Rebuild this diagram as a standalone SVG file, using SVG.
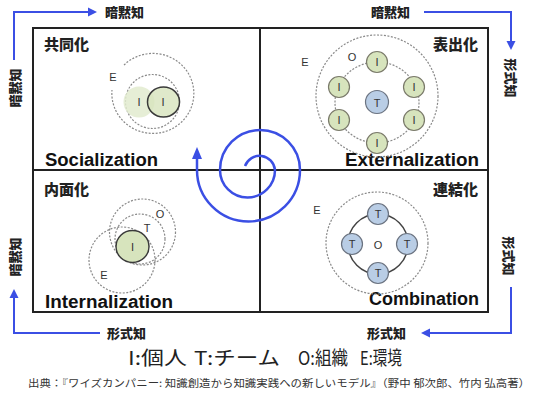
<svg xmlns="http://www.w3.org/2000/svg" width="536" height="401" viewBox="0 0 536 401">
<defs>
<style>
.frame{fill:none;stroke:#222;stroke-width:2}
.blue{fill:none;stroke:#3b4fe4;stroke-width:2}
.bluefill{fill:#3b4fe4}
.spiral{fill:none;stroke:#3b4fe4;stroke-width:2.5}
.dash{fill:none;stroke:#8a8a8a;stroke-width:1.2;stroke-dasharray:2 1.5}
.ring{fill:none;stroke:#444;stroke-width:1.5}
.ci{fill:#d7e4bd;stroke:#7a7a6a;stroke-width:1.2}
.ct{fill:#b9cde5;stroke:#6b7380;stroke-width:1.2}
.jq{font-family:"Noto Sans CJK JP","Noto Sans CJK SC",sans-serif;font-weight:900;fill:#222;font-size:15px}
.ax{font-family:"Noto Sans CJK JP","Noto Sans CJK SC",sans-serif;font-weight:900;fill:#222;font-size:13px}
.en{font-family:"Liberation Sans",Arial,sans-serif;font-weight:bold;fill:#111;font-size:18px}
.lb{font-family:"Liberation Sans",Arial,sans-serif;fill:#333;font-size:11px;text-anchor:middle;dominant-baseline:central}
.lg{font-family:"Noto Sans CJK JP","Noto Sans CJK SC",sans-serif;fill:#222;font-size:19px}
.src{font-family:"Noto Sans CJK JP","Noto Sans CJK SC",sans-serif;fill:#333;font-size:10.5px}
</style>
</defs>

<g id="frame">
<rect class="frame" x="33" y="28" width="455" height="284"/>
<line class="frame" x1="260" y1="28" x2="260" y2="312"/>
<line class="frame" x1="33" y1="170" x2="488" y2="170"/>
</g>

<g id="connectors">
<path class="blue" d="M14,60 V12 H89"/>
<polygon class="bluefill" points="97,12 88,7.5 88,16.5"/>
<path class="blue" d="M424,12 H511 V42"/>
<polygon class="bluefill" points="511,50 506.5,41 515.5,41"/>
<path class="blue" d="M511,287 V333 H429"/>
<polygon class="bluefill" points="421,333 430,328.5 430,337.5"/>
<path class="blue" d="M100,333 H14 V297"/>
<polygon class="bluefill" points="14,289 9.5,298 18.5,298"/>
<path class="spiral" d="M245,166 A15.5,15.5 0 0 1 275,170 A27.5,27.5 0 0 1 220,170 A40,40 0 0 1 300,170 A51.5,51.5 0 0 1 197,170 L197,158"/>
<polygon class="bluefill" points="197,147 192,159 202,159"/>
</g>

<g id="axis-labels">
<text class="ax" x="105" y="17">暗黙知</text>
<text class="ax" x="371" y="17">暗黙知</text>
<text class="ax" x="107" y="338">形式知</text>
<text class="ax" x="367" y="338">形式知</text>
<text class="ax" text-anchor="middle" dominant-baseline="central" transform="translate(14,88) rotate(-90)">暗黙知</text>
<text class="ax" text-anchor="middle" dominant-baseline="central" transform="translate(14,257) rotate(-90)">暗黙知</text>
<text class="ax" text-anchor="middle" dominant-baseline="central" transform="translate(511,78) rotate(90)">形式知</text>
<text class="ax" text-anchor="middle" dominant-baseline="central" transform="translate(509,256) rotate(90)">形式知</text>
</g>

<g id="socialization">
<text class="jq" x="44" y="50">共同化</text>
<text class="en" x="45" y="166" textLength="113" lengthAdjust="spacingAndGlyphs">Socialization</text>
<path class="dash" d="M124,65 A41,40 0 1 1 112,90"/>
<circle class="dash" cx="152.5" cy="101.5" r="27"/>
<circle cx="139" cy="102" r="15.5" fill="#e2ebcf" opacity="0.85"/>
<ellipse cx="163.5" cy="102" rx="16" ry="15" fill="#d7e4bd" fill-opacity="0.8" stroke="#3a3a3a" stroke-width="1.5"/>
<text class="lb" x="113" y="77">E</text>
<text class="lb" x="139" y="102" fill="#555">I</text>
<text class="lb" x="163" y="102">I</text>
</g>

<g id="externalization">
<text class="jq" x="433" y="50">表出化</text>
<text class="en" x="345" y="166" textLength="134" lengthAdjust="spacingAndGlyphs">Externalization</text>
<circle class="dash" cx="377" cy="96" r="61"/>
<ellipse class="dash" cx="377" cy="102.5" rx="42" ry="40.5"/>
<text class="lb" x="305" y="62">E</text>
<text class="lb" x="352" y="57" font-size="13">O</text>
<circle class="ci" cx="377" cy="62" r="10.5"/><text class="lb" x="377" y="62">I</text>
<circle class="ci" cx="414" cy="87" r="10.5"/><text class="lb" x="414" y="87">I</text>
<circle class="ci" cx="414" cy="120" r="10.5"/><text class="lb" x="414" y="120">I</text>
<circle class="ci" cx="377" cy="143" r="10.5"/><text class="lb" x="377" y="143">I</text>
<circle class="ci" cx="339" cy="120" r="10.5"/><text class="lb" x="339" y="120">I</text>
<circle class="ci" cx="339" cy="87" r="10.5"/><text class="lb" x="339" y="87">I</text>
<circle class="ct" cx="377" cy="102" r="11.5"/><text class="lb" x="377" y="103">T</text>
</g>

<g id="internalization">
<text class="jq" x="44" y="195">内面化</text>
<text class="en" x="45" y="308" textLength="128" lengthAdjust="spacingAndGlyphs">Internalization</text>
<circle class="dash" cx="142.5" cy="232" r="33"/>
<circle class="dash" cx="140" cy="239" r="25"/>
<circle class="dash" cx="122" cy="260" r="33"/>
<ellipse cx="132.5" cy="246.5" rx="16.5" ry="16" fill="#d7e4bd" stroke="#3a3a3a" stroke-width="1.5"/>
<text class="lb" x="132.5" y="247">I</text>
<text class="lb" x="160" y="214" font-size="12">O</text>
<text class="lb" x="147" y="228">T</text>
<text class="lb" x="104" y="275">E</text>
</g>

<g id="combination">
<text class="jq" x="433" y="195">連結化</text>
<text class="en" x="369" y="305" textLength="110" lengthAdjust="spacingAndGlyphs">Combination</text>
<circle class="dash" cx="377" cy="243" r="51"/>
<circle class="ring" cx="378" cy="244" r="30"/>
<circle class="ct" cx="378" cy="214" r="10.5"/><text class="lb" x="378" y="214">T</text>
<circle class="ct" cx="352" cy="244" r="10.5"/><text class="lb" x="352" y="244">T</text>
<circle class="ct" cx="407" cy="244" r="10.5"/><text class="lb" x="407" y="244">T</text>
<circle class="ct" cx="378" cy="273" r="10.5"/><text class="lb" x="378" y="273">T</text>
<text class="lb" x="378" y="245">O</text>
<text class="lb" x="317" y="210">E</text>
</g>

<g id="legend">
<text class="lg" x="128" y="365" textLength="59" lengthAdjust="spacingAndGlyphs">I:個人</text>
<text class="lg" x="194" y="365" textLength="86" lengthAdjust="spacingAndGlyphs">T:チーム</text>
<text class="lg" x="298" y="365" textLength="50" lengthAdjust="spacingAndGlyphs">O:組織</text>
<text class="lg" x="360" y="365" textLength="42" lengthAdjust="spacingAndGlyphs">E:環境</text>
<text class="src" x="28" y="387" textLength="502" lengthAdjust="spacingAndGlyphs">出典：『ワイズカンパニー: 知識創造から知識実践への新しいモデル』（野中 郁次郎、竹内 弘高著）</text>
</g>
</svg>
